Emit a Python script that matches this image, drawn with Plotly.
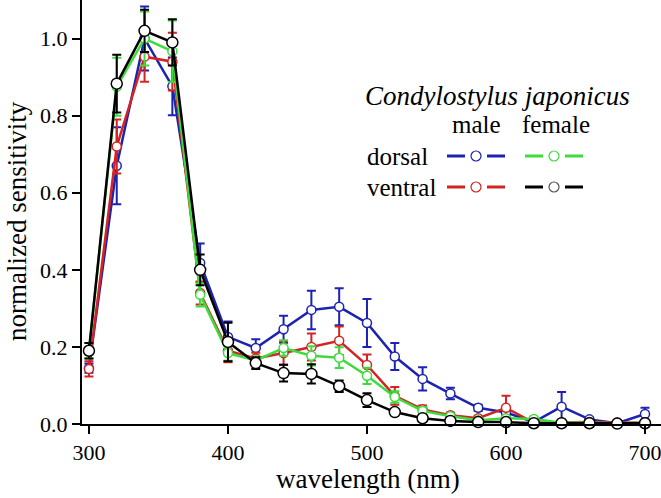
import plotly.graph_objects as go

wavelength = [300, 320, 340, 360, 380, 400, 420, 440, 460, 480, 500,
              520, 540, 560, 580, 600, 620, 640, 660, 680, 700]

male_dorsal = [0.145, 0.67, 1.0, 0.876, 0.418, 0.226, 0.197, 0.246, 0.296, 0.304, 0.262,
               0.175, 0.117, 0.079, 0.042, 0.03, 0.005, 0.045, 0.012, 0.002, 0.026]
male_dorsal_err = [0.012, 0.10, 0.083, 0.075, 0.05, 0.04, 0.023, 0.035, 0.05, 0.048, 0.062,
                   0.035, 0.03, 0.015, 0.008, 0.01, 0.004, 0.038, 0.005, 0.003, 0.016]

male_ventral = [0.143, 0.72, 0.953, 0.94, 0.34, 0.19, 0.17, 0.184, 0.20, 0.216, 0.153,
                0.073, 0.038, 0.023, 0.015, 0.042, 0.003, 0.004, 0.005, 0.004, 0.003]
male_ventral_err = [0.02, 0.07, 0.065, 0.075, 0.03, 0.03, 0.015, 0.03, 0.035, 0.037, 0.027,
                    0.023, 0.01, 0.006, 0.006, 0.031, 0.003, 0.003, 0.003, 0.003, 0.003]

female_dorsal = [0.19, 0.875, 1.0, 0.967, 0.335, 0.184, 0.165, 0.197, 0.177, 0.172, 0.125,
                 0.07, 0.034, 0.02, 0.01, 0.015, 0.013, 0.003, 0.003, 0.002, 0.003]
female_dorsal_err = [0.02, 0.075, 0.07, 0.08, 0.03, 0.02, 0.01, 0.02, 0.025, 0.027, 0.021,
                     0.015, 0.01, 0.005, 0.004, 0.005, 0.006, 0.003, 0.003, 0.002, 0.003]

female_ventral = [0.19, 0.883, 1.02, 0.99, 0.40, 0.213, 0.158, 0.132, 0.13, 0.098, 0.062,
                  0.031, 0.015, 0.008, 0.005, 0.005, 0.002, 0.002, 0.002, 0.001, 0.002]
female_ventral_err = [0.02, 0.075, 0.055, 0.06, 0.04, 0.05, 0.015, 0.022, 0.025, 0.015, 0.018,
                      0.006, 0.008, 0.005, 0.004, 0.004, 0.003, 0.003, 0.003, 0.002, 0.005]

x_ticks = [300, 400, 500, 600, 700]
y_ticks = [0.0, 0.2, 0.4, 0.6, 0.8, 1.0]

BLUE = "#1c23b0"
RED = "#d42323"
GREEN = "#3ddc3d"
BLACK = "#000000"
FONT = "Liberation Serif, Times New Roman, serif"

series = [
    ("male dorsal", male_dorsal, male_dorsal_err, BLUE, 9),
    ("male ventral", male_ventral, male_ventral_err, RED, 9),
    ("female dorsal", female_dorsal, female_dorsal_err, GREEN, 9),
    ("female ventral", female_ventral, female_ventral_err, BLACK, 11),
]

fig = go.Figure()
for name, vals, errs, col, msize in series:
    fig.add_trace(go.Scatter(
        x=wavelength, y=vals, name=name, mode="lines+markers",
        line=dict(color=col, width=2.5),
        marker=dict(symbol="circle", size=msize, color="white",
                    line=dict(color=col, width=1.5)),
        error_y=dict(type="data", array=errs, visible=True,
                     color=col, thickness=2, width=4.5),
        cliponaxis=False,
    ))

ML, MT, PW, PH = 82, 0, 579.0, 424.0
def px(xp):  # pixel -> paper
    return (xp - ML) / PW
def py(yp):
    return (MT + PH - yp) / PH

shapes = []
for x0, y, col in [(447, 156, BLUE), (525, 156, GREEN), (447, 187, RED), (525, 187, BLACK)]:
    shapes.append(dict(type="line", xref="paper", yref="paper", x0=px(x0), x1=px(x0 + 18),
                       y0=py(y), y1=py(y), line=dict(color=col, width=3)))
    shapes.append(dict(type="line", xref="paper", yref="paper", x0=px(x0 + 40), x1=px(x0 + 58),
                       y0=py(y), y1=py(y), line=dict(color=col, width=3)))
    cx = x0 + 29
    lc = "#555555" if col == BLACK else col
    shapes.append(dict(type="circle", xref="paper", yref="paper",
                       x0=px(cx - 5), x1=px(cx + 5), y0=py(y + 5), y1=py(y - 5),
                       line=dict(color=lc, width=1.2), fillcolor="white"))

def ann(text, xp, yp, size, xanchor="center", angle=0):
    return dict(text=text, xref="paper", yref="paper", x=px(xp), y=py(yp),
                showarrow=False, font=dict(family=FONT, size=size, color="black"),
                xanchor=xanchor, yanchor="middle", textangle=angle)

annotations = [
    ann("<i>Condylostylus japonicus</i>", 497, 96, 27),
    ann("male", 476, 125, 25),
    ann("female", 556, 125, 25),
    ann("dorsal", 365, 156, 25, "left"),
    ann("ventral", 365, 187, 25, "left"),
    ann("wavelength (nm)", 368, 479, 27),
    ann("normalized sensitivity", 17, 221, 27, angle=-90),
]

fig.update_layout(
    width=661, height=498,
    margin=dict(l=ML, r=0, t=MT, b=498 - MT - int(PH)),
    paper_bgcolor="white", plot_bgcolor="white",
    showlegend=False,
    font=dict(family=FONT, size=22, color="black"),
    shapes=shapes, annotations=annotations,
    xaxis=dict(range=[295, 711.5], tickvals=x_ticks, ticks="outside", ticklen=8,
               tickwidth=1.5, tickcolor="black", showline=True, linecolor="black",
               linewidth=2, showgrid=False, zeroline=False, automargin=False,
               ticklabeloverflow="allow",
               tickfont=dict(family=FONT, size=22, color="black")),
    yaxis=dict(range=[0, 1.10], tickvals=y_ticks, tickformat=".1f", ticks="outside",
               ticklen=8, tickwidth=1.5, tickcolor="black", showline=True, linecolor="black",
               linewidth=2, showgrid=False, zeroline=False, automargin=False,
               tickfont=dict(family=FONT, size=22, color="black")),
)

# remove the browser's default 8px page margin so the figure sits at the top-left corner
fig.write_html("out.html", config={"displayModeBar": False},
               post_script="document.body.style.margin='0';")
